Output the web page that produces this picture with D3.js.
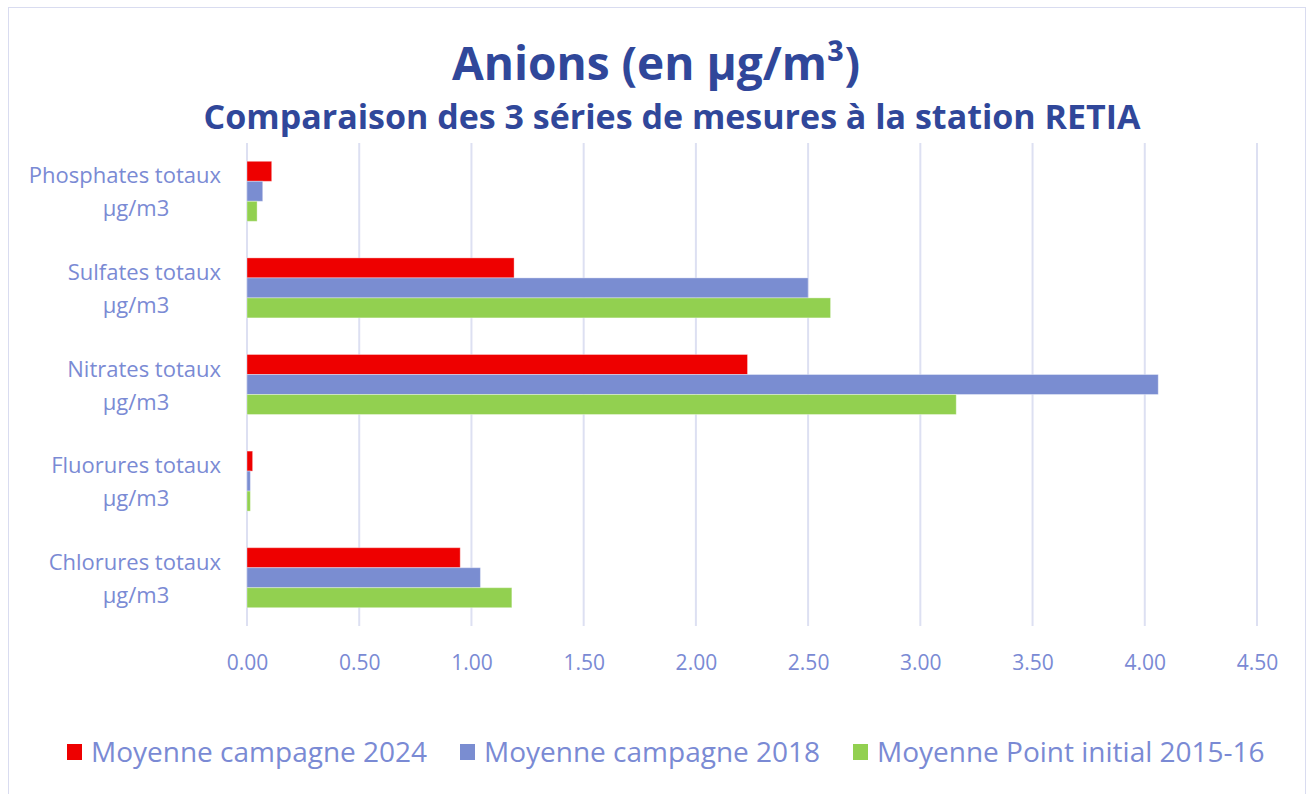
<!DOCTYPE html>
<html>
<head>
<meta charset="utf-8">
<script src="https://d3js.org/d3.v7.min.js"></script>
<style>
  body { margin: 0; background: #fff; }
  text { font-family: "Open Sans", "Noto Sans", sans-serif; }
</style>
</head>
<body>
<div id="chart"></div>
<script>
const categories = ["Phosphates totaux", "Sulfates totaux", "Nitrates totaux", "Fluorures totaux", "Chlorures totaux"];
const seriesNames = ["Moyenne campagne 2024", "Moyenne campagne 2018", "Moyenne Point initial 2015-16"];
const values2024 = [0.11, 1.19, 2.23, 0.025, 0.95];
const values2018 = [0.07, 2.50, 4.06, 0.015, 1.04];
const values2015 = [0.045, 2.60, 3.16, 0.015, 1.18];
const seriesColors = ["#ee0000", "#7a8dd1", "#92d050"];
const xTicks = [0, 0.5, 1, 1.5, 2, 2.5, 3, 3.5, 4, 4.5];

const width = 1312, height = 794;
const margin = { left: 247, right: 55, top: 143, bottom: 168 };

const svg = d3.select("#chart").append("svg")
  .attr("width", width)
  .attr("height", height);

// chart frame
svg.append("rect")
  .attr("x", 8.5).attr("y", 7.5)
  .attr("width", 1297).attr("height", 800)
  .attr("fill", "#fff")
  .attr("stroke", "#d9dcf0");

// titles
svg.append("text")
  .attr("x", 656).attr("y", 80)
  .attr("text-anchor", "middle")
  .attr("fill", "#30479a")
  .style("font-weight", "bold")
  .style("font-size", "46px")
  .text("Anions (en µg/m³)");

svg.append("text")
  .attr("x", 672).attr("y", 129)
  .attr("text-anchor", "middle")
  .attr("fill", "#30479a")
  .style("font-weight", "bold")
  .style("font-size", "34px")
  .text("Comparaison des 3 séries de mesures à la station RETIA");

const x = d3.scaleLinear()
  .domain([0, 4.5])
  .range([margin.left, width - margin.right]);

const y = d3.scaleBand()
  .domain(categories)
  .range([margin.top, height - margin.bottom])
  .paddingInner(0)
  .paddingOuter(0);

const inner = d3.scaleBand()
  .domain(seriesNames)
  .range([0, y.bandwidth()])
  .paddingOuter(0.915)
  .paddingInner(0);

// gridlines
svg.append("g")
  .selectAll("line")
  .data(xTicks)
  .join("line")
  .attr("x1", d => x(d)).attr("x2", d => x(d))
  .attr("y1", margin.top).attr("y2", height - margin.bottom)
  .attr("stroke", "#dde0f2")
  .attr("stroke-width", 2);

// bars
const allSeries = [values2024, values2018, values2015];
allSeries.forEach((vals, si) => {
  svg.append("g")
    .selectAll("rect")
    .data(categories)
    .join("rect")
    .attr("x", x(0))
    .attr("y", (c) => y(c) + inner(seriesNames[si]))
    .attr("width", (c, i) => x(vals[i]) - x(0))
    .attr("height", inner.bandwidth())
    .attr("fill", seriesColors[si])
    .attr("stroke", "rgba(255,255,255,0.35)")
    .attr("stroke-width", 1);
});

// x axis tick labels
const xAxis = d3.axisBottom(x)
  .tickValues(xTicks)
  .tickFormat(d3.format(".2f"))
  .tickSize(0)
  .tickPadding(0);

const gx = svg.append("g")
  .attr("transform", `translate(0, ${height - margin.bottom + 44})`)
  .call(xAxis);
gx.select(".domain").remove();
gx.selectAll("text")
  .attr("fill", "#7a8ad4")
  .attr("dy", 0)
  .style("font-size", "21px");

// category labels
const catLabels = svg.append("g")
  .selectAll("text")
  .data(categories)
  .join("text")
  .attr("text-anchor", "end")
  .attr("fill", "#7a8ad4")
  .style("font-size", "22px");
catLabels.append("tspan")
  .attr("x", 221)
  .attr("y", c => y(c) + y.bandwidth() / 2 - 8)
  .text(c => c);
catLabels.append("tspan")
  .attr("x", 136)
  .attr("text-anchor", "middle")
  .attr("y", c => y(c) + y.bandwidth() / 2 + 25)
  .text("µg/m3");

// legend
const legendX = [67, 460, 853];
const legend = svg.append("g")
  .selectAll("g")
  .data(seriesNames)
  .join("g")
  .attr("transform", (d, i) => `translate(${legendX[i]}, 752)`);
legend.append("rect")
  .attr("x", 0).attr("y", -8)
  .attr("width", 15).attr("height", 16)
  .attr("fill", (d, i) => seriesColors[i]);
legend.append("text")
  .attr("x", 24).attr("y", 10)
  .attr("fill", "#7a8ad4")
  .style("font-size", "28px")
  .text(d => d);
</script>
</body>
</html>
